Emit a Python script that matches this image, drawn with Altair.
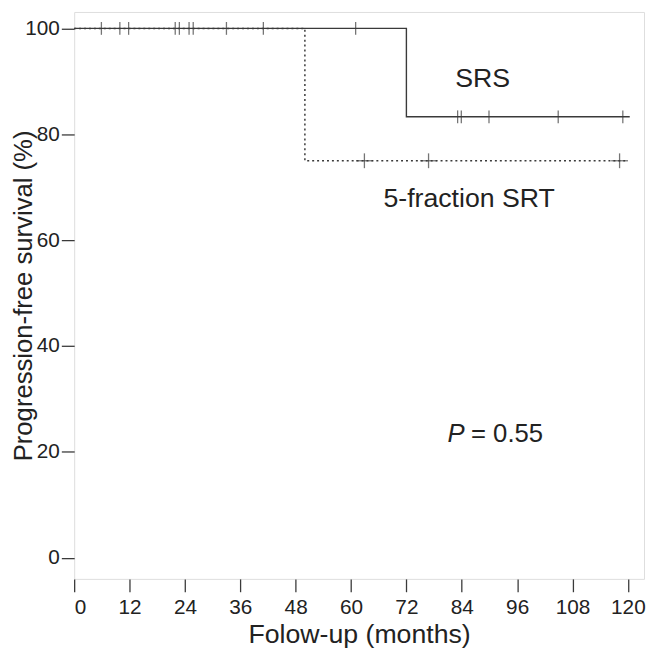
import altair as alt
import pandas as pd

# Kaplan-Meier step data
srs_time = [0, 72, 120.4]
srs_surv = [100, 83.3, 83.3]
srt_time = [0, 50, 119.4]
srt_surv = [100, 75, 75]

# Censor marks
srs_cens_100 = [5.9, 9.9, 11.8, 21.9, 22.8, 24.9, 25.8, 33.0, 41.0, 61.0]
srs_cens_83 = [83.1, 83.9, 89.9, 104.9, 118.9]
srt_cens_75 = [62.9, 76.8, 118.2]

x_ticks = [0, 12, 24, 36, 48, 60, 72, 84, 96, 108, 120]
y_ticks = [0, 20, 40, 60, 80, 100]

FONT = "Liberation Sans"
COL = "#3a3a3a"
TXT = "#222222"

line_df = pd.DataFrame({"t": srs_time, "s": srs_surv})
line_df2 = pd.DataFrame({"t": srt_time, "s": srt_surv})
cens_df = pd.DataFrame(
    [{"t": t, "s": 100} for t in srs_cens_100]
    + [{"t": t, "s": 83.3} for t in srs_cens_83]
)
cens_df2 = pd.DataFrame([{"t": t, "s": 75} for t in srt_cens_75])

xs = alt.Scale(domain=[0, 123.5], nice=False, zero=False)
ys = alt.Scale(domain=[-3.97, 103.1], nice=False, zero=False)

xax = alt.Axis(values=x_ticks, title="Folow-up (months)", grid=False,
               labelFont=FONT, labelFontSize=21, labelColor=TXT,
               titleFont=FONT, titleFontSize=27, titleFontWeight="normal",
               titleColor=TXT, tickColor=COL, tickSize=13, tickWidth=1.3, domain=False,
               labelPadding=5, titlePadding=4)
yax = alt.Axis(values=y_ticks, title="Progression-free survival (%)", grid=False,
               labelFont=FONT, labelFontSize=21, labelColor=TXT,
               titleFont=FONT, titleFontSize=26, titleFontWeight="normal",
               titleColor=TXT, tickColor=COL, tickSize=13, tickWidth=1.3, domain=False,
               labelPadding=2, titlePadding=-12)

srs_line = alt.Chart(line_df).mark_line(interpolate="step-after", color=COL, strokeWidth=1.4).encode(
    x=alt.X("t:Q", scale=xs, axis=xax),
    y=alt.Y("s:Q", scale=ys, axis=yax),
)
srt_line = alt.Chart(line_df2).mark_line(interpolate="step-after", color=COL, strokeWidth=1.5,
                                         strokeDash=[2, 3]).encode(
    x=alt.X("t:Q", scale=xs), y=alt.Y("s:Q", scale=ys)
)
srs_ticks = alt.Chart(cens_df).mark_tick(orient="vertical", color=COL, size=13, thickness=1.3).encode(
    x=alt.X("t:Q", scale=xs), y=alt.Y("s:Q", scale=ys)
)
srt_v = alt.Chart(cens_df2).mark_tick(orient="vertical", color=COL, size=15, thickness=1.3).encode(
    x=alt.X("t:Q", scale=xs), y=alt.Y("s:Q", scale=ys)
)
srt_h = alt.Chart(cens_df2).mark_tick(orient="horizontal", color=COL, size=17, thickness=1.3).encode(
    x=alt.X("t:Q", scale=xs), y=alt.Y("s:Q", scale=ys)
)

labels_df = pd.DataFrame({"t": [88.5, 85.6], "s": [90.5, 67.7],
                          "txt": ["SRS", "5-fraction SRT"]})
labels = alt.Chart(labels_df).mark_text(font=FONT, fontSize=27, color=TXT, baseline="middle").encode(
    x=alt.X("t:Q", scale=xs), y=alt.Y("s:Q", scale=ys), text="txt:N"
)
p_df = pd.DataFrame({"t": [84.6], "s": [23.3], "txt": ["P"]})
p_lab = alt.Chart(p_df).mark_text(font=FONT, fontSize=26, fontStyle="italic", color=TXT,
                                  align="right", baseline="middle").encode(
    x=alt.X("t:Q", scale=xs), y=alt.Y("s:Q", scale=ys), text="txt:N"
)
v_df = pd.DataFrame({"t": [86.0], "s": [23.3], "txt": ["= 0.55"]})
v_lab = alt.Chart(v_df).mark_text(font=FONT, fontSize=26, color=TXT, align="left",
                                  baseline="middle").encode(
    x=alt.X("t:Q", scale=xs), y=alt.Y("s:Q", scale=ys), text="txt:N"
)

chart = alt.layer(srs_line, srt_line, srs_ticks, srt_v, srt_h, labels, p_lab, v_lab).properties(
    width=577, height=574,
    autosize=alt.AutoSizeParams(type="none"),
    padding={"left": 67, "top": 0, "right": 3, "bottom": 70},
).configure_view(stroke=COL, strokeWidth=1.4).configure(background="white")

chart.save("out.html", embed_options={"renderer": "svg", "actions": False})
